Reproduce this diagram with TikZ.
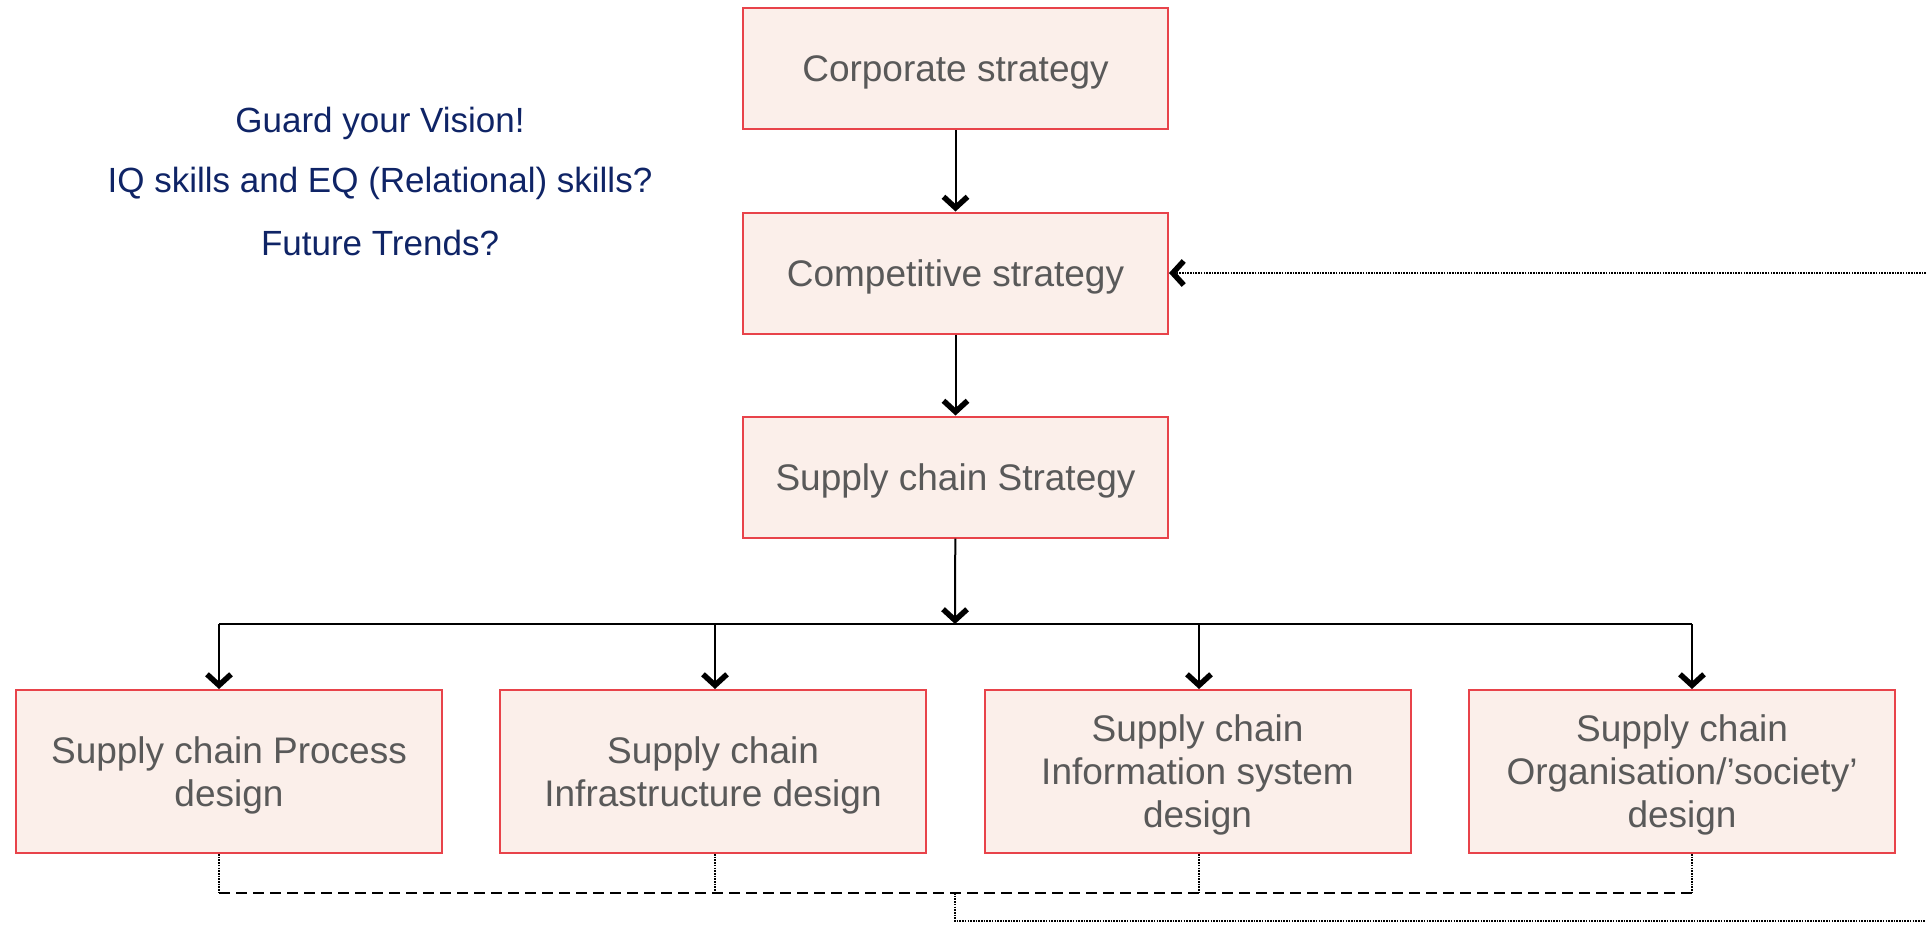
\documentclass[tikz,border=0pt]{standalone}
\usepackage{fontspec}
\setmainfont{Liberation Sans}
\usetikzlibrary{calc,arrows.meta}
\usepackage{xcolor}
\definecolor{boxfill}{HTML}{FBEFEA}
\definecolor{boxred}{HTML}{E8434A}
\definecolor{boxtext}{HTML}{595959}
\definecolor{notenavy}{HTML}{0F2466}

\begin{document}
\begin{tikzpicture}[x=1pt,y=-1pt,
    stratbox/.style={draw=boxred, line width=2pt, fill=boxfill, text=boxtext, align=center,
                     font=\fontsize{37}{43}\selectfont, text depth=-11pt,
                     minimum width=425pt, minimum height=121pt, inner sep=0pt},
    designbox/.style={stratbox, text depth=-6pt, minimum width=426pt, minimum height=163pt},
    note/.style={text=notenavy, font=\fontsize{35}{40}\selectfont},
    conn/.style={line width=2pt},
    barb/.style={-{Straight Barb[length=11pt,width=24pt,line width=5.5pt]}},
    arr/.style={conn, barb},
    dashline/.style={line width=2.2pt, dash pattern=on 11pt off 6pt},
    dotline/.style={line width=2.4pt, dash pattern=on 1.6pt off 1.1pt}]

    \useasboundingbox (0,0) rectangle (1926,926);

    % strategy levels
    \node[stratbox] (corp) at (955.5,68.5) {Corporate strategy};
    \node[stratbox] (comp) at (955.5,273) {Competitive strategy};
    \node[stratbox] (scs) at (955.5,477) {Supply chain Strategy};

    % design areas
    \node[designbox] (proc) at (229,771.5) {Supply chain Process\\design};
    \node[designbox] (infra) at (713,771.5) {Supply chain\\Infrastructure design};
    \node[designbox] (info) at (1197.5,771.5) {Supply chain\\Information system\\design};
    \node[designbox] (org) at (1682,771.5) {Supply chain\\Organisation/’society’\\design};

    % notes
    \node[note] (vision) at (380,123) {Guard your Vision!};
    \node[note] (skills) at (380,183) {IQ skills and EQ (Relational) skills?};
    \node[note] (trends) at (380,243) {Future Trends?};

    \draw[arr] (corp) -- (comp);
    \draw[arr] (comp) -- (scs);

    % split to the four designs
    \coordinate (split) at (955,624);
    \coordinate (t1) at (219,624);
    \coordinate (t2) at (715,624);
    \coordinate (t3) at (1199,624);
    \coordinate (t4) at (1692,624);
    \draw[conn] (t1) -- (t4);
    \draw[arr] (scs) -- (split);
    \draw[arr] (t1) -- (t1 |- proc.north);
    \draw[arr] (t2) -- (t2 |- infra.north);
    \draw[arr] (t3) -- (t3 |- info.north);
    \draw[arr] (t4) -- (t4 |- org.north);

    % feedback
    \coordinate (join) at (955,893);
    \draw[dotline] (t1 |- proc.south) -- (t1 |- join);
    \draw[dotline] (t2 |- infra.south) -- (t2 |- join);
    \draw[dotline] (t3 |- info.south) -- (t3 |- join);
    \draw[dotline] (t4 |- org.south) -- (t4 |- join);
    \draw[dashline] (t1 |- join) -- (t4 |- join);
    \coordinate (edgelow) at (1926,921);
    \coordinate (edgehigh) at (1926,273);
    \draw[dotline] (join) |- (edgelow);
    \draw[dotline, barb] (edgehigh) -- (comp);
\end{tikzpicture}
\end{document}
